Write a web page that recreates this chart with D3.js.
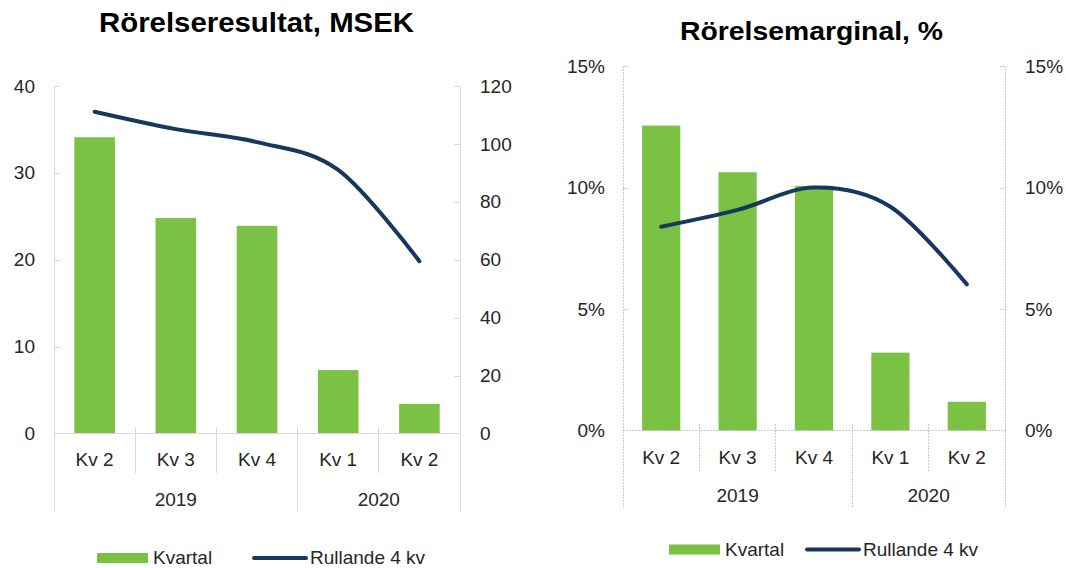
<!DOCTYPE html>
<html><head><meta charset="utf-8">
<script src="https://cdn.jsdelivr.net/npm/d3@7/dist/d3.min.js"></script>
<style>
html,body{margin:0;padding:0;background:#fff;}
svg{display:block;font-family:"Liberation Sans",Arial,sans-serif;}
</style></head>
<body>
<svg id="c" width="1066" height="568"></svg>
<script>
// ---- data ----
const quarters = ["Kv 2","Kv 3","Kv 4","Kv 1","Kv 2"];
const years = ["2019","2019","2019","2020","2020"];
const resultQuarter = [34.1, 24.8, 23.9, 7.3, 3.4];
const resultRolling = [111.1, 105.1, 100.6, 91.0, 59.5];
const marginQuarter = [12.55, 10.63, 10.07, 3.21, 1.19];
const marginRolling = [8.39, 9.08, 10.0, 9.21, 6.02];
const resultTicksLeft = [0, 10, 20, 30, 40];
const resultTicksRight = [0, 20, 40, 60, 80, 100, 120];
const marginTicks = [0, 5, 10, 15];
const titles = ["Rörelseresultat, MSEK", "Rörelsemarginal, %"];
const legendLabels = ["Kvartal", "Rullande 4 kv"];

const GREEN = "#7bc143", NAVY = "#17375e", TXT = "#262626";
const svg = d3.select("#c");

function drawChart(o) {
  const g = svg.append("g");
  const idx = quarters.map((_, i) => i);
  const x = d3.scaleBand().domain(idx).range([o.x0, o.x1]).paddingInner(0.5).paddingOuter(0.25);
  const yL = d3.scaleLinear().domain(o.domL).range([o.yb, o.yt]);
  const yR = d3.scaleLinear().domain(o.domR).range([o.yb, o.yt]);
  const lineStyle = s => s.attr("stroke", o.axisColor).attr("stroke-width", 1).attr("stroke-dasharray", o.dash).attr("fill","none").attr("shape-rendering","crispEdges");

  // bars
  g.selectAll("rect.bar").data(o.bars).join("rect").attr("class","bar")
    .attr("x", (d, i) => x(i)).attr("width", x.bandwidth())
    .attr("y", d => yL(d)).attr("height", d => yL(0) - yL(d))
    .attr("fill", GREEN);

  // axes
  const axL = d3.axisLeft(yL).tickValues(o.ticksL).tickSize(-6).tickSizeOuter(0).tickPadding(o.padL).tickFormat(o.fmtL);
  const axR = d3.axisRight(yR).tickValues(o.ticksR).tickSize(-6).tickSizeOuter(0).tickPadding(o.padR).tickFormat(o.fmtR);
  const gL = g.append("g").attr("transform", `translate(${o.x0},0)`).call(axL);
  const gR = g.append("g").attr("transform", `translate(${o.x1},0)`).call(axR);
  [gL, gR].forEach(a => {
    a.select(".domain").call(lineStyle);
    a.selectAll(".tick line").call(lineStyle);
    a.selectAll(".tick").filter(d => d === 0).select("line").remove();
    a.selectAll("text").attr("font-size", o.fs).attr("fill", TXT).attr("font-family", '"Liberation Sans",Arial,sans-serif');
  });

  // category axis
  g.append("line").attr("x1", o.x0).attr("x2", o.x1).attr("y1", yL(0)).attr("y2", yL(0)).call(lineStyle);
  const step = x.step();
  const bounds = d3.range(6).map(k => o.x0 + k * step);
  bounds.forEach((bx, k) => {
    const yearEdge = (k === 0 || k === 5 || years[k] !== years[k - 1]);
    g.append("line").attr("x1", bx).attr("x2", bx)
      .attr("y1", (k === 0 || k === 5) ? yL(0) : yL(0) - 7)
      .attr("y2", yearEdge ? o.yYearLineEnd : o.yQLineEnd).call(lineStyle);
  });
  g.selectAll("text.q").data(quarters).join("text").attr("class","q")
    .attr("x", (d, i) => x(i) + x.bandwidth() / 2).attr("y", o.yQ)
    .attr("text-anchor","middle").attr("font-size", o.fs).attr("fill", TXT).text(d => d);
  const yearGroups = d3.groups(idx, i => years[i]);
  yearGroups.forEach(([yr, arr]) => {
    const a = o.x0 + arr[0] * step, b = o.x0 + (arr[arr.length - 1] + 1) * step;
    g.append("text").attr("x", (a + b) / 2).attr("y", o.yY).attr("text-anchor","middle")
      .attr("font-size", o.fs).attr("fill", TXT).text(yr);
  });

  // line
  const line = d3.line().x((d, i) => x(i) + x.bandwidth() / 2).y(d => yR(d)).curve(d3.curveCardinal.tension(0));
  g.append("path").datum(o.line).attr("d", line).attr("fill","none").attr("stroke", NAVY)
    .attr("stroke-width", 4).attr("stroke-linecap","round").attr("stroke-linejoin","round");

  // title
  g.append("text").attr("x", o.tx).attr("y", o.ty).attr("text-anchor","middle")
    .attr("font-size", o.tfs).attr("font-weight","bold").attr("fill","#000")
    .attr("textLength", o.tw).attr("lengthAdjust","spacingAndGlyphs").text(o.title);

  // legend
  const L = o.leg;
  g.append("rect").attr("x", L.x).attr("y", L.y - 5).attr("width", 51).attr("height", 10).attr("fill", GREEN);
  g.append("text").attr("x", L.x + 56).attr("y", L.y + 6).attr("font-size", o.fs).attr("fill", TXT).text(legendLabels[0]);
  g.append("line").attr("x1", L.lx).attr("x2", L.lx + 52).attr("y1", L.y).attr("y2", L.y)
    .attr("stroke", NAVY).attr("stroke-width", 4).attr("stroke-linecap","round");
  g.append("text").attr("x", L.lx + 56).attr("y", L.y + 6).attr("font-size", o.fs).attr("fill", TXT).text(legendLabels[1]);
}

drawChart({
  x0: 54, x1: 460, yb: 433.5, yt: 86,
  domL: [0, 40], domR: [0, 120], ticksL: resultTicksLeft, ticksR: resultTicksRight,
  fmtL: d => d, fmtR: d => d, padL: 19, padR: 20,
  bars: resultQuarter, line: resultRolling,
  axisColor: "#d9d9d9", dash: null, fs: 19,
  yQ: 466, yY: 506, yQLineEnd: 473, yYearLineEnd: 512,
  title: titles[0], tx: 256.5, ty: 32, tfs: 28, tw: 315,
  leg: { x: 97, y: 558, lx: 254 }
});
drawChart({
  x0: 623, x1: 1005, yb: 430.7, yt: 66,
  domL: [0, 15], domR: [0, 15], ticksL: marginTicks, ticksR: marginTicks,
  fmtL: d => d + "%", fmtR: d => d + "%", padL: 18, padR: 20,
  bars: marginQuarter, line: marginRolling,
  axisColor: "#c8c8c8", dash: "2,1", fs: 19,
  yQ: 463.5, yY: 502, yQLineEnd: 471, yYearLineEnd: 507,
  title: titles[1], tx: 811.5, ty: 40, tfs: 26, tw: 263,
  leg: { x: 669, y: 549.5, lx: 807 }
});
</script>
</body></html>
